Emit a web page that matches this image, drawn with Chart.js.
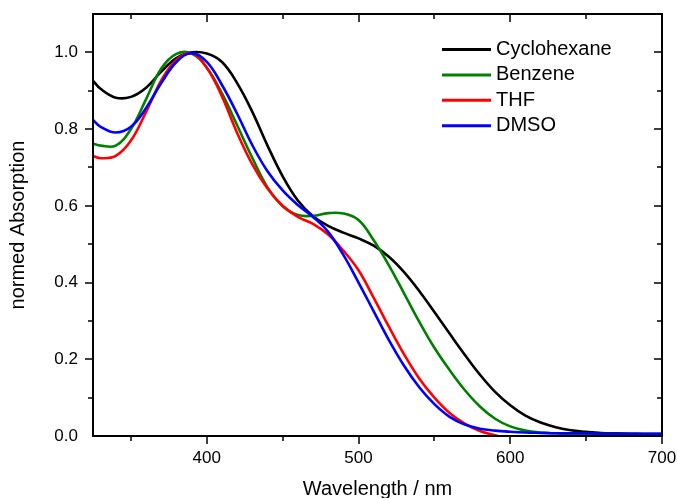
<!DOCTYPE html>
<html>
<head>
<meta charset="utf-8">
<script src="https://cdn.jsdelivr.net/npm/chart.js"></script>
<style>
html, body { margin: 0; padding: 0; background: #fff; }
</style>
</head>
<body>
<canvas id="absChart" width="677" height="498"></canvas>
<script>
// wavelength grid (nm) shared by all spectra
const wavelengths = [325, 330, 340, 350, 360, 370, 380, 390, 400, 410, 420, 430, 440, 450, 460, 470, 480, 490, 500,
	510, 520, 530, 540, 550, 560, 570, 580, 590, 600, 610, 620, 630, 640, 650, 660, 670, 680, 690, 700];

const cyclohexane = [0.926, 0.905, 0.882, 0.884, 0.908, 0.95, 0.985, 1.0, 0.997, 0.975, 0.92, 0.845, 0.757, 0.677, 0.614, 0.573, 0.548, 0.53, 0.515,
	0.496, 0.467, 0.427, 0.378, 0.323, 0.267, 0.212, 0.16, 0.115, 0.08, 0.053, 0.035, 0.023, 0.015, 0.011, 0.008, 0.007, 0.006, 0.005, 0.005];
const benzene = [0.762, 0.757, 0.757, 0.80, 0.878, 0.958, 0.996, 0.997, 0.96, 0.893, 0.81, 0.725, 0.648, 0.599, 0.576, 0.574, 0.581, 0.58, 0.563,
	0.51, 0.445, 0.372, 0.298, 0.23, 0.172, 0.12, 0.077, 0.045, 0.025, 0.014, 0.009, 0.007, 0.006, 0.005, 0.005, 0.005, 0.005, 0.005, 0.005];
const thf = [0.730, 0.724, 0.73, 0.77, 0.845, 0.927, 0.98, 0.998, 0.96, 0.885, 0.79, 0.708, 0.645, 0.60, 0.571, 0.553, 0.525, 0.483, 0.432,
	0.36, 0.285, 0.213, 0.15, 0.10, 0.06, 0.032, 0.013, 0.002, -0.01, -0.01, -0.01, -0.01, -0.01, -0.01, -0.01, -0.01, -0.01, -0.01, -0.01];
const dmso = [0.824, 0.806, 0.791, 0.806, 0.855, 0.92, 0.975, 0.998, 0.975, 0.915, 0.84, 0.758, 0.69, 0.64, 0.602, 0.571, 0.532, 0.472, 0.40,
	0.325, 0.25, 0.183, 0.127, 0.083, 0.05, 0.03, 0.019, 0.014, 0.011, 0.009, 0.008, 0.007, 0.007, 0.007, 0.006, 0.006, 0.006, 0.006, 0.006];

const seriesNames = ["Cyclohexane", "Benzene", "THF", "DMSO"];
const seriesValues = [cyclohexane, benzene, thf, dmso];
const seriesColors = ["#000000", "#008000", "#ff0000", "#0000ff"];

const xTickValues = [400, 500, 600, 700];
const yTickValues = [0.0, 0.2, 0.4, 0.6, 0.8, 1.0];

const FONT = "'Liberation Sans', Arial, sans-serif";

function toPoints(values) {
	return wavelengths.map((w, i) => ({ x: w, y: values[i] }));
}

// axis box plus major/minor ticks (all pointing down / left like the original)
const frameAndTicks = {
	id: "frameAndTicks",
	afterDatasetsDraw(chart) {
		const { ctx, chartArea: a, scales: { x, y } } = chart;
		ctx.save();
		ctx.strokeStyle = "#000";
		ctx.lineWidth = 1.5;
		ctx.beginPath();
		for (let v = 350; v <= 700; v += 50) {
			const px = Math.round(x.getPixelForValue(v));
			const len = v % 100 === 0 ? 8 : 5;
			ctx.moveTo(px, a.bottom);
			ctx.lineTo(px, a.bottom + len);
			ctx.moveTo(px, a.top);
			ctx.lineTo(px, a.top + len);
		}
		for (let k = 1; k <= 10; k++) {
			const py = Math.round(y.getPixelForValue(k / 10));
			const len = k % 2 === 0 ? 8 : 5;
			ctx.moveTo(a.left - len, py);
			ctx.lineTo(a.left, py);
			ctx.moveTo(a.right - len, py);
			ctx.lineTo(a.right, py);
		}
		ctx.stroke();
		ctx.lineWidth = 2;
		ctx.strokeRect(a.left, a.top, a.right - a.left, a.bottom - a.top);
		ctx.restore();
	},
};

// legend drawn inside the plot, top right
const insideLegend = {
	id: "insideLegend",
	afterDraw(chart) {
		const ctx = chart.ctx;
		ctx.save();
		ctx.font = "20px " + FONT;
		ctx.textBaseline = "middle";
		ctx.textAlign = "left";
		seriesNames.forEach((name, i) => {
			const yy = 49.5 + i * 25.4;
			ctx.strokeStyle = seriesColors[i];
			ctx.lineWidth = 3;
			ctx.beginPath();
			ctx.moveTo(442, yy);
			ctx.lineTo(491, yy);
			ctx.stroke();
			ctx.fillStyle = "#000";
			ctx.fillText(name, 496, yy);
		});
		ctx.restore();
	},
};

const ctx = document.getElementById("absChart").getContext("2d");
new Chart(ctx, {
	type: "line",
	data: {
		datasets: seriesNames.map((name, i) => ({
			label: name,
			data: toPoints(seriesValues[i]),
			borderColor: seriesColors[i],
			backgroundColor: seriesColors[i],
			borderWidth: 2.6,
			pointRadius: 0,
			tension: 0.4,
			clip: 0,
			order: seriesNames.length - i,
		})),
	},
	options: {
		responsive: false,
		animation: false,
		layout: { padding: { top: 14, right: 15, left: 0, bottom: 0 } },
		plugins: {
			legend: { display: false },
			tooltip: { enabled: false },
		},
		scales: {
			x: {
				type: "linear",
				min: 325,
				max: 700,
				afterFit(scale) {
					scale.height = 62;
					scale.paddingLeft = 0;
					scale.paddingRight = 0;
				},
				afterBuildTicks(scale) { scale.ticks = xTickValues.map((v) => ({ value: v })); },
				grid: { display: false, drawTicks: false },
				border: { display: false },
				ticks: {
					padding: 12,
					color: "#000",
					font: { family: FONT, size: 17 },
					maxRotation: 0,
					callback: (v) => String(v),
				},
				title: {
					display: true,
					text: "Wavelength / nm",
					color: "#000",
					font: { family: FONT, size: 20, lineHeight: 0.9 },
					padding: 0,
				},
			},
			y: {
				type: "linear",
				min: 0,
				max: 1.1,
				afterFit(scale) {
					scale.width = 93;
					scale.paddingTop = 0;
					scale.paddingBottom = 0;
				},
				afterBuildTicks(scale) { scale.ticks = yTickValues.map((v) => ({ value: v })); },
				grid: { display: false, drawTicks: false },
				border: { display: false },
				ticks: {
					padding: 15,
					color: "#000",
					font: { family: FONT, size: 17 },
					callback: (v) => Number(v).toFixed(1),
				},
				title: {
					display: true,
					text: "normed Absorption",
					color: "#000",
					font: { family: FONT, size: 20, lineHeight: 0.9 },
					padding: { top: 9, bottom: 0 },
				},
			},
		},
	},
	plugins: [frameAndTicks, insideLegend],
});
</script>
</body>
</html>
